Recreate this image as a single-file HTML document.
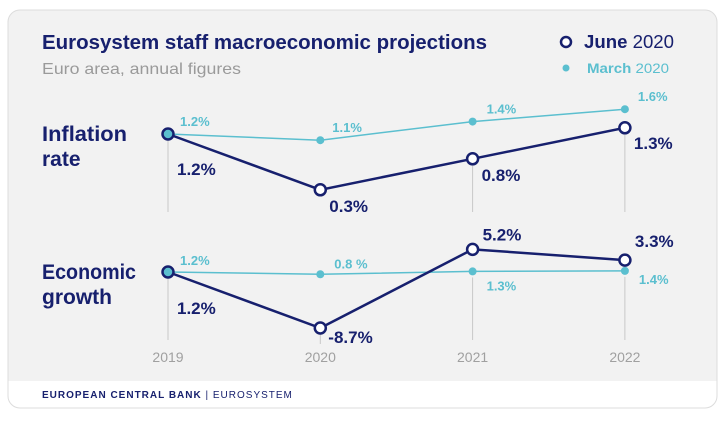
<!DOCTYPE html>
<html><head><meta charset="utf-8"><style>
body{margin:0;width:725px;height:420px;background:#fff;overflow:hidden;font-family:"Liberation Sans",sans-serif}
svg text{font-family:"Liberation Sans",sans-serif}
</style></head><body>
<svg width="725" height="420">
<defs><clipPath id="cc"><rect x="8" y="10" width="709" height="398" rx="12"/></clipPath></defs>
<g clip-path="url(#cc)">
<rect x="8" y="10" width="709" height="398" fill="#f2f2f2"/>
<rect x="8" y="381" width="709" height="30" fill="#fff"/>
</g>
<rect x="8" y="10" width="709" height="398" rx="12" fill="none" stroke="#dcdcdc"/>
<text x="42" y="49" font-size="20" font-weight="bold" fill="#17206e" textLength="445" lengthAdjust="spacingAndGlyphs">Eurosystem staff macroeconomic projections</text>
<text x="42" y="74" font-size="16" fill="#9a9a9a" textLength="199" lengthAdjust="spacingAndGlyphs">Euro area, annual figures</text>
<circle cx="566" cy="42" r="5" fill="#fff" stroke="#17206e" stroke-width="2.5"/>
<text x="584" y="48" font-size="18" fill="#17206e" textLength="90" lengthAdjust="spacingAndGlyphs"><tspan font-weight="bold">June</tspan> 2020</text>
<circle cx="566" cy="68" r="3.5" fill="#5bbfcf"/>
<text x="587" y="73" font-size="14" fill="#5bbfcf" textLength="82" lengthAdjust="spacingAndGlyphs"><tspan font-weight="bold">March</tspan> 2020</text>
<text x="42" y="141" font-size="21" font-weight="bold" fill="#17206e"><tspan x="42" textLength="85" lengthAdjust="spacingAndGlyphs">Inflation</tspan><tspan x="42" dy="25">rate</tspan></text>
<text x="42" y="279" font-size="21" font-weight="bold" fill="#17206e"><tspan x="42" textLength="94" lengthAdjust="spacingAndGlyphs">Economic</tspan><tspan x="42" dy="25">growth</tspan></text>
<text x="42" y="398" font-size="10" font-weight="bold" fill="#17206e" letter-spacing="1">EUROPEAN CENTRAL BANK <tspan font-weight="normal">| EUROSYSTEM</tspan></text>
<g id="plot"></g>
</svg>
<script>
const years=['2019','2020','2021','2022'];
const inflJune=[1.2,0.3,0.8,1.3];
const inflMarch=[1.2,1.1,1.4,1.6];
const gdpJune=[1.2,-8.7,5.2,3.3];
const gdpMarch=[1.2,0.8,1.3,1.4];
const inflJuneLbl=['1.2%','0.3%','0.8%','1.3%'];
const inflMarchLbl=['1.2%','1.1%','1.4%','1.6%'];
const gdpJuneLbl=['1.2%','-8.7%','5.2%','3.3%'];
const gdpMarchLbl=['1.2%','0.8 %','1.3%','1.4%'];
const NS='http://www.w3.org/2000/svg';
const g=document.getElementById('plot');
const xs=i=>168+i*152.3;
const yI=v=>134-(v-1.2)*62;
const yG=v=>272-(v-1.2)*5.66;
function mk(t,a){const e=document.createElementNS(NS,t);for(const k in a)e.setAttribute(k,a[k]);g.appendChild(e);return e;}
function txt(x,y,s,size,col,bold,anchor){const e=mk('text',{x:x,y:y,'font-size':size,fill:col,'font-weight':bold?'bold':'normal','text-anchor':anchor||'start'});e.textContent=s;return e;}
years.forEach((yr,i)=>{
 if(i!==1){const l=mk('line',{x1:xs(i),x2:xs(i),y1:yI(inflJune[i])+6,y2:212,stroke:'#c8c8c8'});
 }
 const top=i===1?yG(gdpJune[i])+6:Math.max(yG(gdpJune[i]),yG(gdpMarch[i]))+6;
 const l2=mk('line',{x1:xs(i),x2:xs(i),y1:top,y2:i===1?344:340,stroke:'#c8c8c8'});
 
 const t=txt(xs(i),362,yr,14,'#a0a0a0',false,'middle');
 
});
function series(vals,yf,col,w,name){
 const p=mk('polyline',{points:vals.map((v,i)=>xs(i)+','+yf(v)).join(' '),fill:'none',stroke:col,'stroke-width':w});
 
}
series(inflMarch,yI,'#5bbfcf',1.5,'inflation-march');
series(gdpMarch,yG,'#5bbfcf',1.5,'growth-march');
series(inflJune,yI,'#17206e',2.5,'inflation-june');
series(gdpJune,yG,'#17206e',2.5,'growth-june');
function marchPts(vals,yf,name){vals.forEach((v,i)=>{const c=mk('circle',{cx:xs(i),cy:yf(v),r:4,fill:'#5bbfcf'});
 });}
function junePts(vals,yf,name){vals.forEach((v,i)=>{const c=mk('circle',{cx:xs(i),cy:yf(v),r:5.5,fill:i===0?'#5bbfcf':'#fff',stroke:'#17206e','stroke-width':2.5});
 });}
marchPts(inflMarch,yI,'inflation-march');marchPts(gdpMarch,yG,'growth-march');
junePts(inflJune,yI,'inflation-june');junePts(gdpJune,yG,'growth-june');
inflMarch.forEach((v,i)=>{const t=txt(xs(i)+(i===3?13:i===2?14:12),yI(v)-8,inflMarchLbl[i],13,'#5bbfcf',true);
 });
inflJune.forEach((v,i)=>{const dy=[41,22,22,21][i];const t=txt(xs(i)+9,yI(v)+dy,inflJuneLbl[i],17,'#17206e',true);
 });
gdpMarch.forEach((v,i)=>{const dy=[-7,-6,19,13][i];const t=txt(xs(i)+(i===0?12:14),yG(v)+dy,gdpMarchLbl[i],13,'#5bbfcf',true);
 });
gdpJune.forEach((v,i)=>{const dy=[42,15,-9,-13][i];const dx=[9,8,10,10][i];const t=txt(xs(i)+dx,yG(v)+dy,gdpJuneLbl[i],17,'#17206e',true);
 });
</script>
</body></html>
